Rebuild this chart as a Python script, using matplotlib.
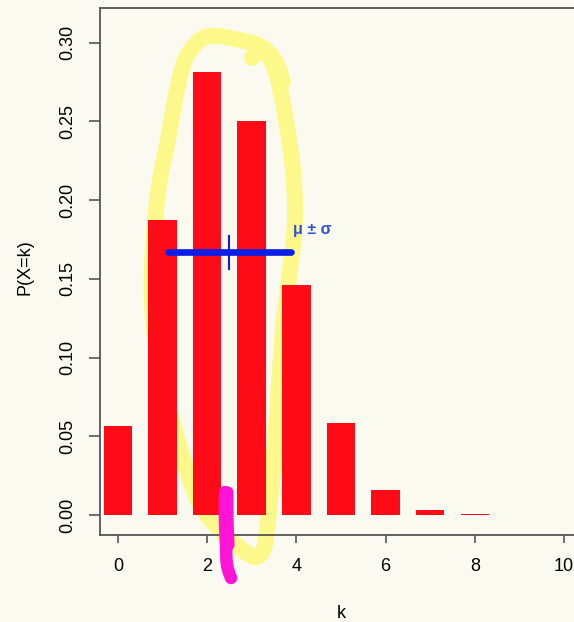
import numpy as np
import matplotlib
matplotlib.use("Agg")
import matplotlib.pyplot as plt

# ---- data ----
k_values = [0, 1, 2, 3, 4, 5, 6, 7, 8, 9, 10]
probabilities = [0.0563, 0.1877, 0.2816, 0.2503, 0.1460, 0.0584, 0.0162, 0.0031, 0.0004, 0.00003, 0.000001]
x_ticks = [0, 2, 4, 6, 8, 10]
y_ticks = [0.00, 0.05, 0.10, 0.15, 0.20, 0.25, 0.30]
y_tick_labels = ["0.00", "0.05", "0.10", "0.15", "0.20", "0.25", "0.30"]
bar_level_y = 0.167  # height of mu +- sigma marker
annot_text = "μ ± σ"

# freehand annotations (figure pixel coords, origin top-left)
yellow_stroke = [(252, 58), (262, 50), (270, 58), (278, 80), (286, 120), (293, 170),
                 (295, 220), (290, 270), (283, 330), (278, 400), (273, 470), (268, 520), (264, 548),
                 (255, 557), (240, 548), (220, 530), (200, 505), (185, 465), (172, 420), (160, 370),
                 (153, 320), (152, 270), (155, 220), (160, 180), (168, 140), (176, 95), (185, 60),
                 (200, 40), (215, 36), (240, 40), (262, 47), (276, 62), (283, 82)]
magenta_stroke = [(225, 492), (225, 520), (226, 545), (227, 565), (231, 578)]
magenta_top = [(370, -1), (395, -3), (427, -3)]

W, H = 574, 622
BG = "#fbfaf0"
plt.rcParams['font.family'] = ['Liberation Sans', 'DejaVu Sans']
FS = 13

fig = plt.figure(figsize=(W / 100, H / 100), dpi=100, facecolor=BG)
ax = fig.add_axes([100 / W, (H - 535) / H, 481.9 / W, 527 / H], facecolor=BG)


def smooth(pts, n=12):
    P = np.array(pts, dtype=float)
    P = np.vstack([P[0], P, P[-1]])
    out = []
    for i in range(1, len(P) - 2):
        p0, p1, p2, p3 = P[i - 1], P[i], P[i + 1], P[i + 2]
        for t in np.linspace(0, 1, n, endpoint=False):
            t2, t3 = t * t, t * t * t
            out.append(0.5 * ((2 * p1) + (-p0 + p2) * t + (2 * p0 - 5 * p1 + 4 * p2 - p3) * t2
                              + (-p0 + 3 * p1 - 3 * p2 + p3) * t3))
    out.append(P[-2])
    return [tuple(o) for o in out]


def px(pts):
    xs = [p[0] / W for p in pts]
    ys = [1 - p[1] / H for p in pts]
    return xs, ys

# yellow highlighter (beneath bars)
xs, ys = px(smooth(yellow_stroke))
ax.plot(xs, ys, transform=fig.transFigure, color="#fcf88a", lw=11.5, solid_capstyle="round",
        solid_joinstyle="round", clip_on=False, zorder=1)

ax.bar(k_values, probabilities, width=0.64, color="#ff0a17", zorder=2)

# mu +- sigma
p = np.array(probabilities)
k = np.array(k_values)
mu = float((k * p).sum() / p.sum())
sd = float(np.sqrt(((k - mu) ** 2 * p).sum() / p.sum()))
ax.plot([mu - sd, mu + sd], [bar_level_y, bar_level_y], color="#0a1ee6", lw=4.8,
        solid_capstyle="round", zorder=4)
ax.plot([mu, mu], [bar_level_y - 0.0105, bar_level_y + 0.0105], color="#0a1ee6", lw=1.5, zorder=4)
ax.text(mu + sd + 0.06, 0.1817, annot_text, color="#2f52d6", fontsize=11.5, fontweight="bold",
        ha="left", va="center", zorder=5)

# magenta marks
xs, ys = px(smooth(magenta_stroke))
ax.plot(xs, ys, transform=fig.transFigure, color="#ff14d8", lw=9, solid_capstyle="round",
        clip_on=False, zorder=6)
xs, ys = px(magenta_stroke[:3])
ax.plot([x + 3 / W for x in xs], ys, transform=fig.transFigure, color="#ff14d8", lw=8,
        solid_capstyle="round", clip_on=False, zorder=6)
xs, ys = px(magenta_top)
ax.plot(xs, ys, transform=fig.transFigure, color="#ff14d8", lw=7, solid_capstyle="round",
        clip_on=False, zorder=6)

ax.set_xlim(-0.4, 10.4)
ax.set_ylim(-0.0127, 0.3221)
ax.set_xticks(x_ticks)
ax.set_xticklabels([str(t) for t in x_ticks], fontsize=FS)
ax.set_yticks(y_ticks)
ax.set_yticklabels(y_tick_labels, fontsize=FS, rotation=90, va="center")
ax.tick_params(axis="y", length=7.9, width=1.2, color="#555555", pad=9)
ax.tick_params(axis="x", length=5.8, width=1.2, color="#555555", pad=11)
for s in ax.spines.values():
    s.set_color("#555555")
    s.set_linewidth(1.3)

ax.set_xlabel("k", fontsize=FS)
ax.xaxis.set_label_coords((341 - 100) / 481.9, -(613 - 535) / 527, transform=ax.transAxes)
ax.xaxis.label.set_va("center")
ax.set_ylabel("P(X=k)", fontsize=FS)
ax.yaxis.set_label_coords(-(100 - 25) / 481.9, (535 - 267) / 527, transform=ax.transAxes)
ax.yaxis.label.set_va("center")

fig.savefig("out.png", dpi=100, facecolor=BG)
